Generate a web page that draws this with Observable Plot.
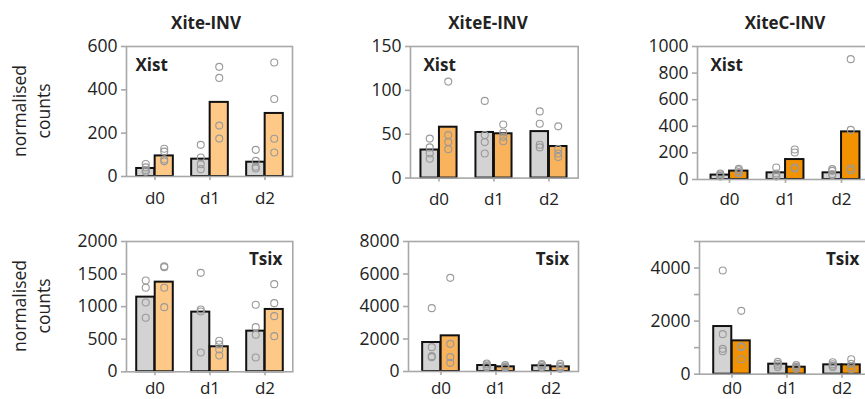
<!DOCTYPE html>
<html>
<head>
<meta charset="utf-8">
<script src="https://cdn.jsdelivr.net/npm/d3@7"></script>
<script src="https://cdn.jsdelivr.net/npm/@observablehq/plot@0.6"></script>
<style>
  html, body { margin: 0; padding: 0; background: #fff; }
  #chart { position: relative; width: 865px; height: 399px; overflow: hidden; font-family: "Open Sans", sans-serif; color: #222; }
  .panel { position: absolute; }
  .title { position: absolute; font-weight: bold; font-size: 17px; transform: translateX(-50%); white-space: nowrap; line-height: 1; }
  .ylab { position: absolute; font-size: 17.5px; line-height: 24px; text-align: center; white-space: nowrap; transform: translate(-50%, -50%) rotate(-90deg); }
</style>
</head>
<body>
<div id="chart"></div>
<script>
// ---- data ----
const days = ["d0", "d1", "d2"];
const panelTitles = ["Xite-INV", "XiteE-INV", "XiteC-INV"];
const genes = ["Xist", "Tsix"];

// bar heights (grey = control, orange = inversion line)
const xiteInv_Xist_grey = [37, 80, 66];
const xiteInv_Xist_orange = [95, 342, 291];
const xiteEInv_Xist_grey = [32, 52, 53];
const xiteEInv_Xist_orange = [58, 50.5, 36];
const xiteCInv_Xist_grey = [33, 50, 50];
const xiteCInv_Xist_orange = [63, 150, 358];
const xiteInv_Tsix_grey = [1146, 916, 624];
const xiteInv_Tsix_orange = [1376, 384, 957];
const xiteEInv_Tsix_grey = [1785, 369, 349];
const xiteEInv_Tsix_orange = [2195, 287, 287];
const xiteCInv_Tsix_grey = [1796, 377, 352];
const xiteCInv_Tsix_orange = [1256, 264, 352];

// replicate points per day
const xiteInv_Xist_greyReps = [[58, 42, 30, 22], [146, 88, 57, 34], [123, 72, 45, 37]];
const xiteInv_Xist_orangeReps = [[128, 115, 78, 70], [506, 455, 235, 175], [526, 358, 174, 111]];
const xiteEInv_Xist_greyReps = [[45, 35, 28, 22], [88, 49, 41, 28], [76, 62, 38, 35]];
const xiteEInv_Xist_orangeReps = [[110, 49, 41, 33], [61, 52, 47, 42], [59, 33, 28, 24]];
const xiteCInv_Xist_greyReps = [[45, 38, 28, 22], [90, 45, 30, 23], [78, 65, 40, 33]];
const xiteCInv_Xist_orangeReps = [[80, 70, 55, 47], [225, 203, 90, 83], [905, 373, 83, 70]];
const xiteInv_Tsix_greyReps = [[1402, 1289, 1064, 829], [1519, 957, 926, 297], [1028, 685, 568, 220]];
const xiteInv_Tsix_orangeReps = [[1621, 1606, 1289, 992], [476, 419, 343, 251], [1345, 1054, 854, 547]];
const xiteEInv_Tsix_greyReps = [[3897, 1497, 944, 882], [492, 431, 328, 267], [451, 390, 287, 267]];
const xiteEInv_Tsix_orangeReps = [[5764, 1703, 882, 533], [390, 308, 267, 226], [472, 328, 267, 164]];
const xiteCInv_Tsix_greyReps = [[3907, 1508, 955, 867], [465, 390, 327, 264], [452, 377, 314, 264]];
const xiteCInv_Tsix_orangeReps = [[2387, 1055, 1018, 565], [340, 276, 239, 201], [565, 390, 264, 188]];

// y axes
const yDomains = [[0, 600], [0, 150], [0, 1000], [0, 2000], [0, 8000], [0, 5000]];
const yTicks = [
  [0, 200, 400, 600],
  [0, 50, 100, 150],
  [0, 200, 400, 600, 800, 1000],
  [0, 500, 1000, 1500, 2000],
  [0, 2000, 4000, 6000, 8000],
  [0, 1000, 2000, 3000, 4000, 5000]
];
const yTickLabels = [
  [0, 200, 400, 600],
  [0, 50, 100, 150],
  [0, 200, 400, 600, 800, 1000],
  [0, 500, 1000, 1500, 2000],
  [0, 2000, 4000, 6000, 8000],
  [0, 2000, 4000]
];

// ---- layout (styles / sizes) ----
const orangeColors = ["#fec986", "#f8b35c", "#f39200"];
const greyFill = "#d3d3d3";
const frames = [
  {x1: 126, x2: 292, y1: 45.7, y2: 175.7, inL: 0, inR: 0, xPad: 11.5},
  {x1: 410, x2: 577.7, y1: 45.7, y2: 177.3, inL: 0, inR: 0, xPad: 10.5},
  {x1: 696.7, x2: 873, y1: 45.7, y2: 178.7, inL: 4, inR: 4, xPad: 9.5},
  {x1: 126, x2: 292.3, y1: 241, y2: 371.3, inL: 0, inR: 0, xPad: 6},
  {x1: 407.7, x2: 577.7, y1: 241, y2: 371, inL: 4, inR: 0, xPad: 6},
  {x1: 698.7, x2: 873, y1: 241, y2: 373.7, inL: 4, inR: 4, xPad: 4}
];
const geneOffsets = [
  {anchor: "top-left", dx: 9, dy: 12},
  {anchor: "top-left", dx: 13, dy: 12},
  {anchor: "top-left", dx: 13, dy: 12},
  {anchor: "top-right", dx: -10.5, dy: 11},
  {anchor: "top-right", dx: -9.5, dy: 11},
  {anchor: "top-right", dx: -14.5, dy: 11}
];

const greyBars = [xiteInv_Xist_grey, xiteEInv_Xist_grey, xiteCInv_Xist_grey, xiteInv_Tsix_grey, xiteEInv_Tsix_grey, xiteCInv_Tsix_grey];
const orangeBars = [xiteInv_Xist_orange, xiteEInv_Xist_orange, xiteCInv_Xist_orange, xiteInv_Tsix_orange, xiteEInv_Tsix_orange, xiteCInv_Tsix_orange];
const greyReps = [xiteInv_Xist_greyReps, xiteEInv_Xist_greyReps, xiteCInv_Xist_greyReps, xiteInv_Tsix_greyReps, xiteEInv_Tsix_greyReps, xiteCInv_Tsix_greyReps];
const orangeReps = [xiteInv_Xist_orangeReps, xiteEInv_Xist_orangeReps, xiteCInv_Xist_orangeReps, xiteInv_Tsix_orangeReps, xiteEInv_Tsix_orangeReps, xiteCInv_Tsix_orangeReps];

const chart = document.getElementById("chart");
const ML = 60, MR = 10, MT = 10, MB = 40;
const barW = 18.5;
const axisGrey = "#a8a8a8";

function toBars(vals) { return vals.map((v, i) => ({day: days[i], value: v})); }
function toReps(reps) { return reps.flatMap((arr, i) => arr.map(v => ({day: days[i], value: v}))); }

for (let p = 0; p < 6; p++) {
  const f = frames[p];
  const fw = f.x2 - f.x1, fh = f.y2 - f.y1;
  const bw = (fw - f.inL - f.inR) / 3;
  const gap = (bw - 2 * barW) / 2;
  const labeled = new Set(yTickLabels[p]);
  const g = geneOffsets[p];
  const svg = Plot.plot({
    width: fw + ML + MR,
    height: fh + MT + MB,
    marginLeft: ML, marginRight: MR, marginTop: MT, marginBottom: MB,
    style: {fontFamily: "Open Sans", fontSize: "17.5px", color: "#222", background: "transparent", overflow: "visible"},
    x: {domain: days, padding: 0, insetLeft: f.inL, insetRight: f.inR, axis: null, label: null},
    y: {domain: yDomains[p], axis: null, label: null},
    marks: [
      Plot.barY(toBars(greyBars[p]), {x: "day", y: "value", fill: greyFill, stroke: "#111", strokeWidth: 2, insetLeft: gap, insetRight: bw / 2}),
      Plot.barY(toBars(orangeBars[p]), {x: "day", y: "value", fill: orangeColors[p % 3], stroke: "#111", strokeWidth: 2, insetLeft: bw / 2, insetRight: gap}),
      Plot.dot(toReps(greyReps[p]), {x: "day", y: "value", dx: -barW / 2, r: 3.5, stroke: "#9a9a9a", strokeWidth: 1.1, fill: "none"}),
      Plot.dot(toReps(orangeReps[p]), {x: "day", y: "value", dx: barW / 2, r: 3.5, stroke: "#9a9a9a", strokeWidth: 1.1, fill: "none"}),
      Plot.frame({stroke: axisGrey, strokeWidth: 1.6}),
      Plot.axisY({ticks: yTicks[p], tickSize: 5, tickPadding: 4, stroke: axisGrey, strokeWidth: 1.6, fill: "#222", label: null,
        tickFormat: d => labeled.has(d) ? String(d) : ""}),
      Plot.axisX({tickSize: 4, tickPadding: f.xPad, stroke: axisGrey, strokeWidth: 1.6, fill: "#222", fontSize: 17, label: null}),
      Plot.text([genes[p < 3 ? 0 : 1]], {frameAnchor: g.anchor, dx: g.dx, dy: g.dy, text: d => d, fontWeight: "bold", fontSize: 17, fill: "#222"})
    ]
  });
  svg.classList.add("panel");
  svg.style.left = (f.x1 - ML) + "px";
  svg.style.top = (f.y1 - MT) + "px";
  chart.appendChild(svg);
}

// titles
const titleCenters = [206, 488, 785];
titleCenters.forEach((cx, i) => {
  const t = document.createElement("div");
  t.className = "title";
  t.textContent = panelTitles[i];
  t.style.left = cx + "px";
  t.style.top = "14px";
  chart.appendChild(t);
});

// y labels
[110.7, 306].forEach(cy => {
  const l = document.createElement("div");
  l.className = "ylab";
  l.innerHTML = "normalised<br>counts";
  l.style.left = "30.5px";
  l.style.top = cy + "px";
  chart.appendChild(l);
});
</script>
</body>
</html>
